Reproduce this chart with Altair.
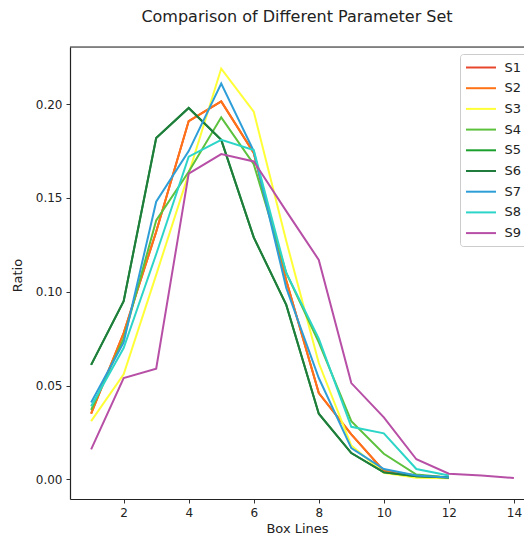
import altair as alt
import pandas as pd

series_names = ["S1", "S2", "S3", "S4", "S5", "S6", "S7", "S8", "S9"]
colors = ["#e8472e", "#ff7316", "#ffff38", "#5cc13c", "#1ba02e",
          "#1f7c3d", "#2d9ed8", "#2cd5c8", "#b74fa6"]

box_lines_12 = [1, 2, 3, 4, 5, 6, 7, 8, 9, 10, 11, 12]
box_lines_14 = [1, 2, 3, 4, 5, 6, 7, 8, 9, 10, 11, 12, 13, 14]

s1 = [0.035, 0.078, 0.132, 0.191, 0.2015, 0.174, 0.106, 0.046, 0.024, 0.0045, 0.002, 0.001]
s2 = [0.035, 0.078, 0.132, 0.191, 0.2015, 0.174, 0.106, 0.046, 0.024, 0.0045, 0.002, 0.001]
s3 = [0.031, 0.056, 0.109, 0.163, 0.219, 0.196, 0.127, 0.062, 0.018, 0.0035, 0.0008, 0.0005]
s4 = [0.037, 0.075, 0.138, 0.164, 0.193, 0.168, 0.110, 0.073, 0.031, 0.0136, 0.0025, 0.001]
s5 = [0.061, 0.095, 0.182, 0.198, 0.181, 0.129, 0.093, 0.035, 0.014, 0.0037, 0.0016, 0.001]
s6 = [0.061, 0.095, 0.182, 0.198, 0.181, 0.129, 0.093, 0.035, 0.014, 0.0037, 0.0016, 0.001]
s7 = [0.041, 0.073, 0.148, 0.175, 0.211, 0.175, 0.102, 0.054, 0.0166, 0.0055, 0.002, 0.001]
s8 = [0.039, 0.070, 0.120, 0.172, 0.181, 0.1755, 0.110, 0.075, 0.028, 0.0245, 0.0055, 0.002]
s9 = [0.016, 0.054, 0.059, 0.163, 0.1734, 0.1695, 0.143, 0.117, 0.0513, 0.033, 0.0107, 0.003, 0.002, 0.0007]

x_ticks = [2, 4, 6, 8, 10, 12, 14]
y_ticks = [0.0, 0.05, 0.10, 0.15, 0.20]
y_top = 0.2305
y_bottom = -0.0105

all_series = [s1, s2, s3, s4, s5, s6, s7, s8, s9]
rows = []
for order, (name, vals) in enumerate(zip(series_names, all_series)):
    xs = box_lines_14 if len(vals) == 14 else box_lines_12
    for bx, v in zip(xs, vals):
        rows.append({"Box Lines": bx, "Ratio": v, "Set": name, "order": order})
df = pd.DataFrame(rows)

FONT = "DejaVu Sans"
DARK = "#222222"

x_scale = alt.Scale(domain=[0.35, 14.31], nice=False, zero=False)
y_scale = alt.Scale(domain=[y_bottom, y_top], nice=False, zero=False)

y_axis = alt.Axis(values=y_ticks, format=".2f", title="Ratio", grid=False,
                  domain=True, domainColor=DARK, domainWidth=1.2,
                  tickSize=4, tickColor="#333",
                  labelPadding=4, labelFontSize=12, labelColor=DARK,
                  labelFont=FONT, titleFont=FONT, titleFontSize=13,
                  titleFontWeight="normal", titleColor=DARK,
                  titleX=-46, titleY=228, titleAngle=-90,
                  titleAlign="center", titleBaseline="bottom")

lines = alt.Chart(df).mark_line(strokeWidth=2, clip=True).encode(
    x=alt.X("Box Lines:Q", scale=x_scale,
            axis=alt.Axis(values=x_ticks, title="Box Lines", grid=False,
                          domain=True, domainColor=DARK, domainWidth=1.2,
                          tickSize=4, tickColor="#333",
                          labelPadding=4, labelFontSize=12, labelColor=DARK,
                          labelFont=FONT, titleFont=FONT, titleFontSize=13,
                          titleFontWeight="normal", titleColor=DARK,
                          titlePadding=4)),
    y=alt.Y("Ratio:Q", scale=y_scale, axis=y_axis),
    color=alt.Color("Set:N",
                    scale=alt.Scale(domain=series_names, range=colors),
                    legend=alt.Legend(title=None, orient="none", legendX=390, legendY=7,
                                      symbolType="M-2,0H2", symbolSize=225,
                                      symbolStrokeWidth=2, symbolOffset=7.5,
                                      labelFontSize=13, labelFont=FONT,
                                      labelColor=DARK, labelOffset=15,
                                      rowPadding=4.7, padding=5,
                                      fillColor="white", strokeColor="#cccccc",
                                      cornerRadius=3)),
    order=alt.Order("order:Q"),
    detail="Set:N",
)

top_frame = alt.Chart(pd.DataFrame({"Ratio": [y_top]})).mark_rule(
    color=DARK, strokeWidth=1.2
).encode(
    y=alt.Y("Ratio:Q", scale=y_scale, axis=y_axis),
)

chart = alt.layer(lines, top_frame).properties(
    width=454,
    height=452,
    title=alt.TitleParams("Comparison of Different Parameter Set", font=FONT,
                          fontSize=16, fontWeight="normal", color=DARK,
                          offset=21, anchor="middle"),
    autosize=alt.AutoSizeParams(type="none"),
    padding={"left": 62, "top": 39, "right": 0, "bottom": 37},
).configure_view(
    stroke=None
).configure(background="white")

chart.save("out.html", embed_options={"renderer": "svg", "actions": False})
